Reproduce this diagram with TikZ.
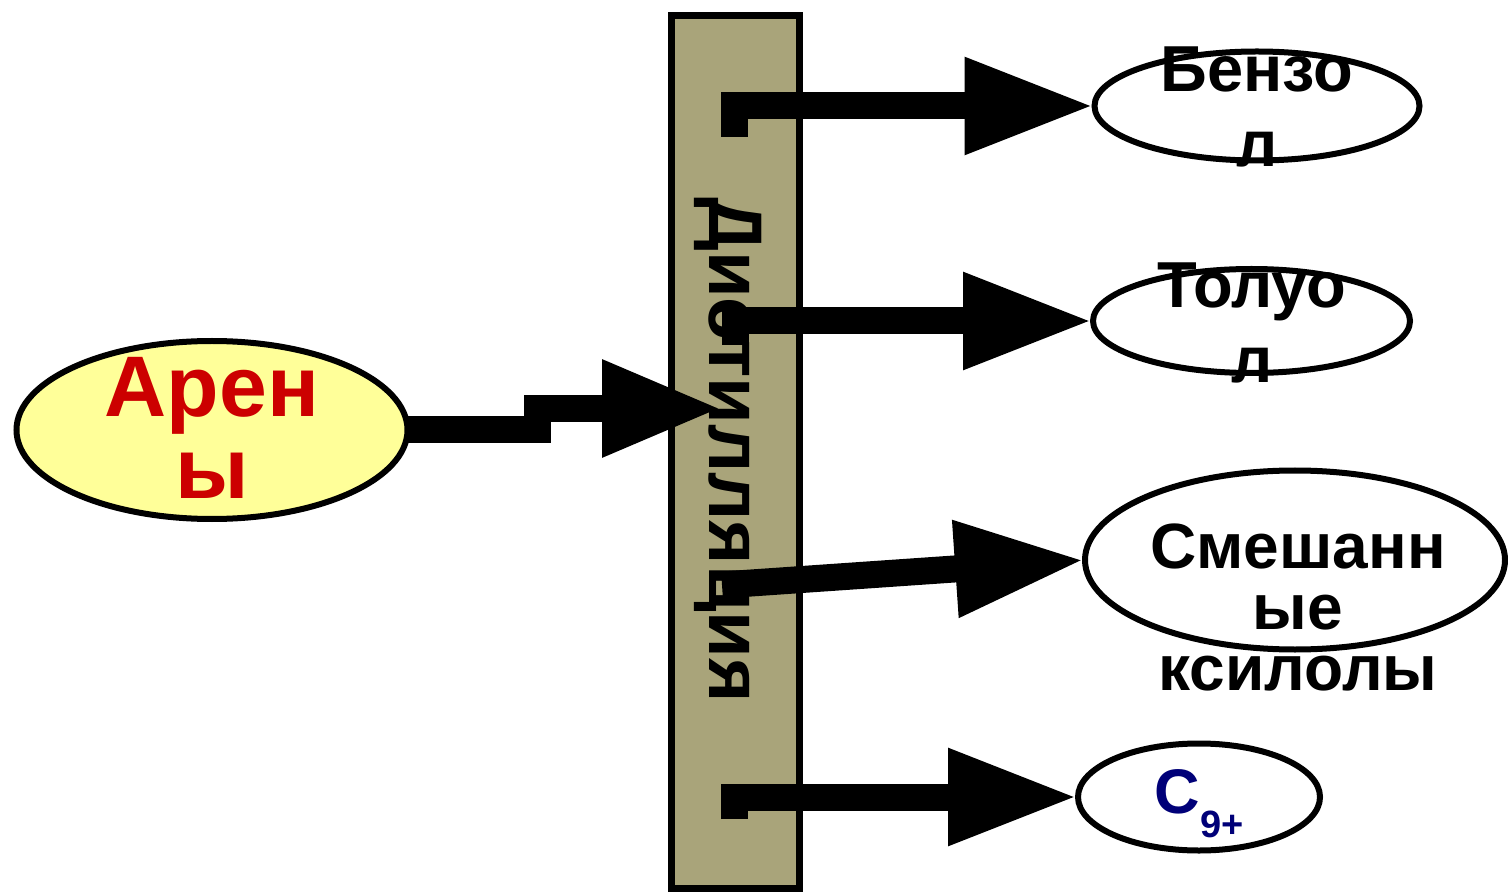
\documentclass[tikz,border=0pt]{standalone}
\usepackage{fontspec}
\setmainfont{Liberation Sans}
\usetikzlibrary{shapes.geometric,arrows.meta}
\definecolor{colfill}{RGB}{169,164,122}
\definecolor{arfill}{RGB}{255,255,153}
\definecolor{arred}{RGB}{204,0,0}
\definecolor{navyc}{RGB}{0,0,120}
\begin{document}
\begin{tikzpicture}[x=0.5pt,y=-0.5pt,
  oval/.style={ellipse, draw, line width=3pt, inner sep=0pt, outer sep=0pt},
  conn/.style={line width=13.5pt, line join=miter, -{Triangle[length=65pt,width=45pt]}},
  lbl/.style={align=center, inner sep=0pt}]
\useasboundingbox (0,0) rectangle (1508,892);
% column
\node[draw, fill=colfill, line width=3.5pt, minimum width=64pt, minimum height=436pt, inner sep=0pt] (col) at (735,452) {};
\node[rotate=-90, inner sep=0pt, font=\fontsize{38pt}{38pt}\selectfont\bfseries] (coltxt) at (728.5,450) {Дистилляция};
% ellipses
\node[oval, fill=arfill, minimum width=195.5pt, minimum height=89pt] (arens) at (212,430) {};
\node[oval, fill=white, minimum width=162.5pt, minimum height=54.5pt] (benz) at (1257,106) {};
\node[oval, fill=white, minimum width=158.5pt, minimum height=52pt] (tol) at (1251.5,321) {};
\node[oval, fill=white, minimum width=210pt, minimum height=89.5pt] (ksyl) at (1295,560) {};
\node[oval, fill=white, minimum width=121pt, minimum height=53.5pt] (c9) at (1199,797) {};
% texts
\node[lbl, text=arred, font=\fontsize{43pt}{41pt}\selectfont\bfseries] (arenstxt) at (212,428) {Арен\\ы};
\node[lbl, font=\fontsize{32.5pt}{37.5pt}\selectfont\bfseries] (benztxt) at (1257,106.5) {Бензо\\л};
\node[lbl, font=\fontsize{32.5pt}{37.5pt}\selectfont\bfseries] (toltxt) at (1252,323) {Толуо\\л};
\node[lbl, font=\fontsize{32pt}{30.5pt}\selectfont\bfseries] (ksyltxt) at (1298,607) {Смешанн\\ые\\ксилолы};
\node[lbl, text=navyc, font=\fontsize{31.5pt}{31.5pt}\selectfont\bfseries] (c9txt) at (1199,804) {C\raisebox{-12pt}{\fontsize{19pt}{19pt}\selectfont 9+}};
% connectors
\coordinate (mid1) at (537.5,430);
\coordinate (in1) at (722,408.5);
\draw[line width=13.5pt, line join=miter, -{Triangle[length=60pt,width=45pt]}] (arens.east) -- (mid1) |- (in1);
\coordinate (h1) at (734.5,137);
\draw[conn] (h1) |- (benz.west);
\coordinate (h2) at (735,345);
\draw[conn] (h2) |- (tol.west);
\coordinate (h3) at (722,585);
\draw[conn] (h3) -- (ksyl.west);
\coordinate (h4) at (734.5,819);
\draw[conn] (h4) |- (c9.west);
\end{tikzpicture}
\end{document}
